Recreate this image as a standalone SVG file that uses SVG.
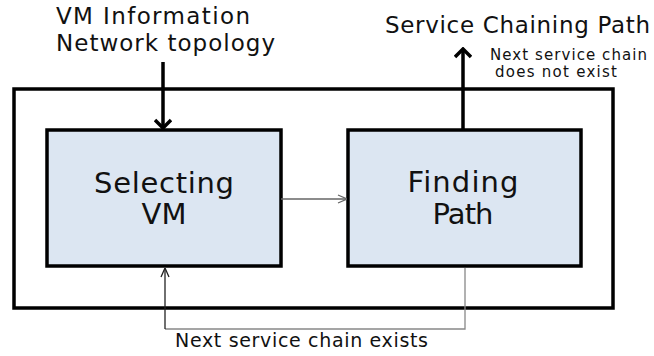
<svg xmlns="http://www.w3.org/2000/svg" width="654" height="356" viewBox="0 0 654 356">
<style>
text{font-family:"DejaVu Sans","Open Sans",sans-serif;fill:#111;}
.box{fill:#dce6f2;stroke:#000;stroke-width:3.5;}
.lbl{font-size:29px;text-anchor:middle;}
.thin{fill:none;stroke-width:1.3;}
</style>
<defs>
<marker id="open" viewBox="0 0 10 10" refX="10" refY="5" markerWidth="10" markerHeight="10" markerUnits="userSpaceOnUse" orient="auto">
<path d="M1,1 L10,5 L1,9" fill="none" stroke="context-stroke" stroke-width="1.3"/>
</marker>
<marker id="bold" viewBox="0 0 18 18" refX="16" refY="9" markerWidth="18" markerHeight="18" markerUnits="userSpaceOnUse" orient="auto">
<path d="M8,1 L16,9 L8,17" fill="none" stroke="#000" stroke-width="3.5"/>
</marker>
</defs>
<rect id="frame" x="14" y="89" width="599" height="219" fill="none" stroke="#000" stroke-width="3.5"/>
<g id="selecting-vm">
<rect class="box" x="47" y="130" width="234" height="136"/>
<text class="lbl" x="164" y="193" textLength="140">Selecting</text>
<text class="lbl" x="164" y="224">VM</text>
</g>
<g id="finding-path">
<rect class="box" x="348" y="130" width="233" height="136"/>
<text class="lbl" x="463" y="192" textLength="111">Finding</text>
<text class="lbl" x="463" y="224" textLength="61">Path</text>
</g>
<g id="inputs">
<text x="56" y="24" font-size="23" textLength="194">VM Information</text>
<text x="56" y="51" font-size="23" textLength="219">Network topology</text>
</g>
<g id="output">
<text x="385" y="33" font-size="23" textLength="265">Service Chaining Path</text>
<text x="490" y="60" font-size="15" textLength="157">Next service chain</text>
<text x="495" y="77" font-size="15" textLength="122">does not exist</text>
</g>
<g id="connectors">
<line x1="163" y1="62" x2="163" y2="128" stroke="#000" stroke-width="3.5" marker-end="url(#bold)"/>
<line x1="463" y1="130" x2="463" y2="49" stroke="#000" stroke-width="3.5" marker-end="url(#bold)"/>
<line class="thin" x1="281" y1="199" x2="347" y2="199" stroke="#666" marker-end="url(#open)"/>
<polyline class="thin" points="465,268 465,329 165,329" stroke="#888"/>
<line class="thin" x1="165" y1="329" x2="165" y2="268" stroke="#222" marker-end="url(#open)"/>
<text x="175" y="347" font-size="19" textLength="253">Next service chain exists</text>
</g>
</svg>
